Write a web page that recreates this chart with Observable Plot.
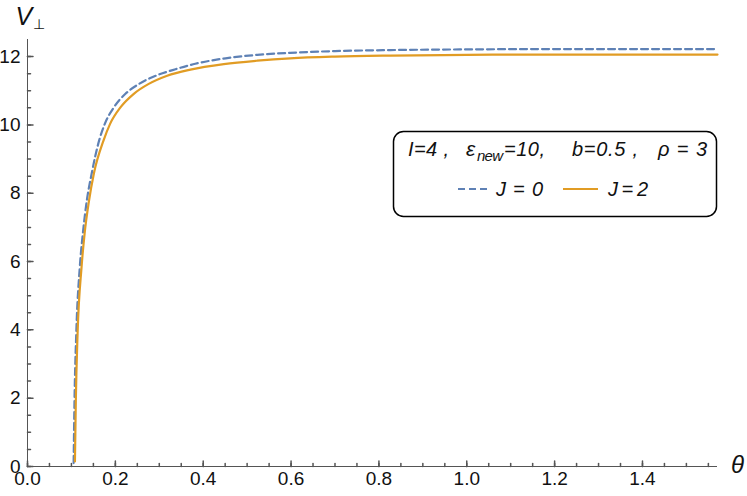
<!DOCTYPE html>
<html><head><meta charset="utf-8">
<script src="https://cdn.jsdelivr.net/npm/d3@7"></script>
<script src="https://cdn.jsdelivr.net/npm/@observablehq/plot@0.6"></script>
<style>
body{margin:0;background:#fff;font-family:"Liberation Sans",Arial,sans-serif;}
#wrap{position:relative;width:747px;height:496px;}
#wrap svg{display:block;}
#legend{position:absolute;left:0;top:0;pointer-events:none;}
</style></head>
<body><div id="wrap"></div>
<script>
// J = 0 (dashed blue)
const theta0 = [0.105, 0.107, 0.111, 0.119, 0.126, 0.135, 0.146, 0.163, 0.176, 0.197, 0.223, 0.254, 0.292, 0.337, 0.382, 0.451, 0.523, 0.598, 0.70, 0.826, 1.0, 1.2, 1.5708];
const v0     = [0.10, 1.93, 3.89, 5.83, 6.82, 7.78, 8.57, 9.54, 10.03, 10.52, 10.91, 11.20, 11.44, 11.63, 11.79, 11.95, 12.05, 12.11, 12.16, 12.19, 12.21, 12.22, 12.22];
// J = 2 (solid orange)
const theta2 = [0.108, 0.110, 0.114, 0.123, 0.130, 0.140, 0.151, 0.173, 0.188, 0.212, 0.242, 0.276, 0.318, 0.371, 0.447, 0.523, 0.598, 0.70, 0.826, 1.0, 1.2, 1.5708];
const v2     = [0.15, 1.93, 3.89, 5.83, 6.82, 7.78, 8.57, 9.54, 10.03, 10.52, 10.91, 11.20, 11.44, 11.62, 11.78, 11.88, 11.95, 12.00, 12.03, 12.05, 12.06, 12.06];

const seriesNames  = ["J=0", "J=2"];
const seriesColors = ["#5E81B5", "#E19C24"];
const xTicks = [0, 0.2, 0.4, 0.6, 0.8, 1.0, 1.2, 1.4];
const yTicks = [0, 2, 4, 6, 8, 10, 12];
const xMinor = d3.range(0, 1.56, 0.05);
const yMinor = d3.range(0, 12.5, 0.5);

const rows0 = theta0.map((t, i) => ({theta: t, v: v0[i]}));
const rows2 = theta2.map((t, i) => ({theta: t, v: v2[i]}));

const axisColor = "#555";
const tickShape = {draw(ctx, l) { ctx.moveTo(0, 0); ctx.lineTo(0, -l); }};

const chart = Plot.plot({
  width: 747, height: 496,
  marginLeft: 27, marginRight: 30, marginTop: 39, marginBottom: 30,
  x: {domain: [0, Math.PI / 2]},
  y: {domain: [0, 12.5]},
  style: {fontFamily: "'Liberation Sans', Arial, sans-serif", fontSize: "19px", color: "#111", background: "white"},
  marks: [
    Plot.axisX({ticks: xTicks, tickSize: 0, tickPadding: 5, tickFormat: d3.format(".1f"), fontSize: 19, label: null}),
    Plot.axisY({ticks: yTicks, tickSize: 0, tickPadding: 7, tickFormat: d => String(d), fontSize: 19, label: null}),
    Plot.vector(xMinor, {x: d => d, y: () => 0, length: 3, rotate: 0, anchor: "start", shape: tickShape, stroke: axisColor}),
    Plot.vector(xTicks, {x: d => d, y: () => 0, length: 5.5, rotate: 0, anchor: "start", shape: tickShape, stroke: axisColor}),
    Plot.vector(yMinor, {x: () => 0, y: d => d, length: 3, rotate: 90, anchor: "start", shape: tickShape, stroke: axisColor}),
    Plot.vector(yTicks, {x: () => 0, y: d => d, length: 5.5, rotate: 90, anchor: "start", shape: tickShape, stroke: axisColor}),
    Plot.ruleY([0], {stroke: axisColor, strokeWidth: 1}),
    Plot.ruleX([0], {stroke: axisColor, strokeWidth: 1}),
    Plot.line(rows0, {x: "theta", y: "v", stroke: seriesColors[0], strokeWidth: 2.2, strokeDasharray: "7,4", curve: "monotone-x"}),
    Plot.line(rows2, {x: "theta", y: "v", stroke: seriesColors[1], strokeWidth: 2.2, curve: "monotone-x"}),
    Plot.text([0], {frameAnchor: "top-left", text: () => "V", dx: -12, dy: -23, textAnchor: "start", lineAnchor: "middle", fontStyle: "italic", fontSize: 25, fill: "#111"}),
    Plot.text([0], {frameAnchor: "top-left", text: () => "⊥", dx: 11.5, dy: -15, textAnchor: "middle", lineAnchor: "middle", fontSize: 14, fill: "#111"}),
    Plot.text([0], {frameAnchor: "bottom-right", text: () => "θ", dx: 20, dy: -1, textAnchor: "middle", lineAnchor: "middle", fontStyle: "italic", fontSize: 24, fill: "#111"})
  ]
});
const wrap = document.getElementById("wrap");
wrap.appendChild(chart);

// Legend overlay (inside plot area, as in the reference)
const lg = d3.select(wrap).append("svg").attr("id", "legend").attr("width", 747).attr("height", 496)
  .style("font-family", "'Liberation Sans', Arial, sans-serif");
lg.append("rect").attr("x", 393.5).attr("y", 131.5).attr("width", 323).attr("height", 85).attr("rx", 10)
  .attr("fill", "white").attr("stroke", "#000").attr("stroke-width", 1.5);
const italic = (x, y, s, len, size) => {
  const t = lg.append("text").attr("x", x).attr("y", y).attr("font-style", "italic")
    .attr("font-size", size || 20).attr("fill", "#111").text(s);
  if (len) t.attr("textLength", len).attr("lengthAdjust", "spacing");
  return t;
};
const base1 = 155.5;
italic(408, base1, "I=4 ,", 41);
italic(466, base1, "ε", null, 21);
italic(477, base1 + 5, "new", 26, 15);
italic(504, base1, "=10,", 41);
italic(572, base1, "b=0.5 ,", 66);
italic(658, base1, "ρ=3", 49);
// series swatches
const base2 = 195.5;
const sw = [[458, 490, 496, 47], [563, 598, 608, 40]];
seriesNames.forEach((name, i) => {
  const [x1, x2, tx, tl] = sw[i];
  lg.append("line").attr("x1", x1).attr("x2", x2).attr("y1", base2 - 6.5).attr("y2", base2 - 6.5)
    .attr("stroke", seriesColors[i]).attr("stroke-width", 2.2)
    .attr("stroke-dasharray", i === 0 ? "7,4" : null);
  italic(tx, base2, name, tl);
});
</script></body></html>
